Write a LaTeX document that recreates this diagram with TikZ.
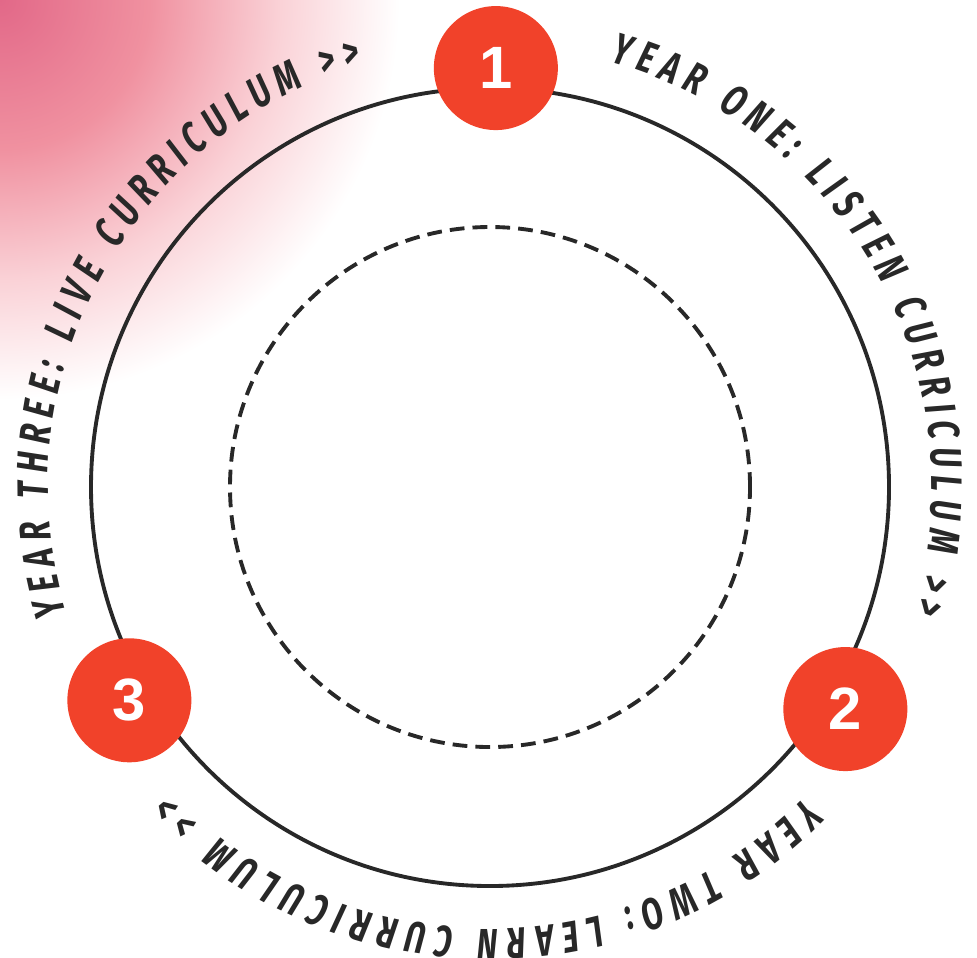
\documentclass[tikz,border=0pt]{standalone}
\usepackage{fontspec}
\usepackage{xcolor}
\usepackage{tikz}
\usetikzlibrary{decorations.text, calc}
\newfontfamily\ringfont{Fira Sans}[FakeStretch=0.7, FakeSlant=0.1]
\newfontfamily\numfont{Liberation Sans}
\definecolor{RingInk}{RGB}{40,40,40}
\definecolor{BadgeRed}{RGB}{241,66,42}
\definecolor{GlowDeep}{RGB}{226,104,136}
\definecolor{GlowMid}{RGB}{240,145,160}
\definecolor{GlowPale}{RGB}{250,210,215}
\pgfdeclareradialshading{cornerglow}{\pgfpointorigin}{color(0bp)=(GlowDeep);
  color(8.3bp)=(GlowMid); color(15.6bp)=(GlowPale); color(22.2bp)=(white); color(50bp)=(white)}

\begin{document}
\begin{tikzpicture}[
      ring/.style={draw=RingInk, line width=1.1pt},
      inner ring/.style={draw=RingInk, line width=1.1pt, dash pattern=on 4.2pt off 2.3pt},
      badge/.style={circle, fill=BadgeRed, text=white, minimum size=1.24cm, inner sep=0pt,
                    font=\numfont\bfseries\fontsize{17}{20}\selectfont},
      ringtext/.style={decorate, decoration={text along path, text align=fit to path,
                       text color=RingInk}}
    ]
    \useasboundingbox (0,0) rectangle (9.77,9.57);

    %--- Corner glow ---
    \begin{scope}
      \clip (0,0) rectangle (9.77,9.57);
      \shade[shading=cornerglow] (0,9.57) circle (4.5);
    \end{scope}

    %--- Rings ---
    \coordinate (c) at (4.90,4.70);
    \draw[ring] (c) circle (3.99);
    \draw[inner ring] (c) circle (2.60);

    %--- Year badges ---
    \node[badge] (y1) at ($(c)+(89.2:4.19)$) {1};
    \node[badge] (y2) at ($(c)+(-32:4.19)$) {2};
    \node[badge] (y3) at ($(c)+(210.6:4.19)$) {3};

    %--- Ring labels ---
    \path[ringtext, decoration={text={|\ringfont\bfseries\fontsize{12.5}{14}\selectfont|YEAR ONE: LISTEN CURRICULUM >>}}]
          ($(c)+(74.5:4.42)$) arc[start angle=74.5, end angle=-16.3, radius=4.42];
    \path[ringtext, decoration={text={|\ringfont\bfseries\fontsize{12.5}{14}\selectfont|YEAR TWO: LEARN CURRICULUM >>}}]
          ($(c)+(-44.4:4.42)$) arc[start angle=-44.4, end angle=-136, radius=4.42];
    \path[ringtext, decoration={text={|\ringfont\bfseries\fontsize{12.5}{14}\selectfont|YEAR THREE: LIVE CURRICULUM >>}}]
          ($(c)+(196.8:4.42)$) arc[start angle=196.8, end angle=107, radius=4.42];
  \end{tikzpicture}
\end{document}
